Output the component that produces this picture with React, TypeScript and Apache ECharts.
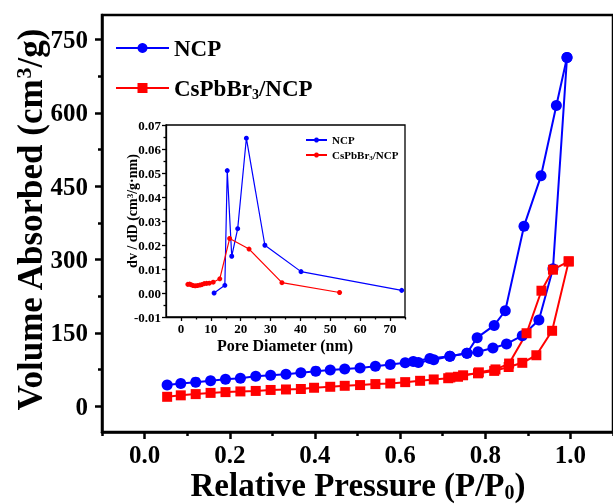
import React, { useEffect, useRef } from 'react';
import * as echarts from 'echarts';

// Main isotherm: NCP (adsorption / desorption branches)
const ncpAdsP = [0.053, 0.085, 0.12, 0.155, 0.19, 0.225, 0.261, 0.296, 0.332, 0.367, 0.402, 0.436, 0.47, 0.506, 0.542, 0.577, 0.612, 0.643, 0.679, 0.717, 0.757, 0.783, 0.818, 0.85, 0.887, 0.926, 0.959, 0.992];
const ncpAdsV = [43, 46, 49, 52, 55, 57, 61, 63, 65, 68, 71.5, 74, 76, 78, 81.7, 85, 88.5, 89, 95, 102, 108, 111, 119, 127, 144, 176, 281, 713];
const ncpDesP = [0.992, 0.967, 0.931, 0.891, 0.847, 0.821, 0.781, 0.757, 0.717, 0.67, 0.631];
const ncpDesV = [713, 615, 471, 368, 195, 165, 140, 108, 102, 97.4, 91];

// Main isotherm: CsPbBr3/NCP
const csAdsP = [0.053, 0.085, 0.12, 0.155, 0.19, 0.225, 0.261, 0.296, 0.332, 0.367, 0.398, 0.436, 0.47, 0.506, 0.542, 0.577, 0.612, 0.647, 0.679, 0.713, 0.748, 0.783, 0.821, 0.855, 0.887, 0.92, 0.957, 0.996];
const csAdsV = [19, 22, 24.5, 27, 28.6, 30, 31, 33, 34, 35, 37.5, 39.5, 41.5, 43, 45, 46.3, 49, 51.7, 54.5, 57, 63, 67, 72, 80, 88.5, 104, 154, 296];
const csDesP = [0.996, 0.959, 0.932, 0.897, 0.856, 0.824, 0.785, 0.736, 0.718];
const csDesV = [296, 279, 236, 149, 87, 75, 69, 60, 58.6];

// Inset: pore size distribution
const ncpPoreD = [11.1, 14.7, 15.5, 17.0, 19.0, 21.9, 28.1, 40.2, 73.9];
const ncpPoreV = [0, 0.0032, 0.051, 0.0153, 0.0268, 0.0645, 0.0199, 0.0089, 0.0011];
const csPoreD = [2.3, 2.9, 3.5, 4.1, 4.8, 5.5, 6.3, 7.0, 7.8, 8.6, 9.5, 10.8, 13.0, 16.3, 22.8, 33.8, 53.1];
const csPoreV = [0.0036, 0.0037, 0.0034, 0.0031, 0.003, 0.0031, 0.0033, 0.0035, 0.0039, 0.004, 0.0041, 0.0045, 0.0059, 0.0227, 0.0183, 0.0043, 0.0002];

// Ticks
const mainXMajor = [0, 0.2, 0.4, 0.6, 0.8, 1.0];
const mainXMinor = [-0.1, 0.1, 0.3, 0.5, 0.7, 0.9, 1.1];
const mainYMajor = [0, 150, 300, 450, 600, 750];
const mainYMinor = [75, 225, 375, 525, 675];
const insetXMajor = [0, 10, 20, 30, 40, 50, 60, 70];
const insetXMinor = [5, 15, 25, 35, 45, 55, 65, 75];

const FONT = 'Liberation Serif';
const BLUE = '#0000FF';
const RED = '#FF0000';

const zip = (a: number[], b: number[]) => a.map((v, i) => [v, b[i]]);

export default function App() {
  const ref = useRef<HTMLDivElement>(null);
  useEffect(() => {
    document.body.style.margin = '0';
    const chart = echarts.init(ref.current!, null, { renderer: 'svg' });
    const lbl = (size: number, margin: number) => ({
      fontFamily: FONT, fontWeight: 'bold', fontSize: size, color: '#000', margin,
    });
    const mainLine = { show: true, onZero: false, lineStyle: { color: '#000', width: 2.5 } };
    const insetLine = { show: true, onZero: false, lineStyle: { color: '#000', width: 1.3 } };
    const option: any = {
      animation: false,
      textStyle: { fontFamily: FONT },
      grid: [
        { left: 102, top: 15, width: 515, height: 417, show: true, borderColor: '#000', borderWidth: 2.5, backgroundColor: 'transparent' },
        { left: 166, top: 125, width: 239, height: 192, show: true, borderColor: '#000', borderWidth: 1.3, backgroundColor: '#fff' },
      ],
      xAxis: [
        {
          gridIndex: 0, type: 'value', min: -0.1, max: 1.1, position: 'bottom',
          axisLine: mainLine,
          axisTick: { show: true, inside: false, length: 7, customValues: mainXMajor, lineStyle: { color: '#000', width: 2.5 } },
          axisLabel: { ...lbl(25, 10), customValues: mainXMajor, formatter: (v: number) => v.toFixed(1) },
          splitLine: { show: false },
        },
        {
          gridIndex: 0, type: 'value', min: -0.1, max: 1.1, position: 'bottom',
          axisLine: { show: false, onZero: false },
          axisTick: { show: true, inside: false, length: 4, customValues: mainXMinor, lineStyle: { color: '#000', width: 2.5 } },
          axisLabel: { show: false },
          splitLine: { show: false },
        },
        {
          gridIndex: 1, type: 'value', min: -5, max: 75, position: 'bottom',
          axisLine: insetLine,
          axisTick: { show: true, inside: false, length: 4, customValues: insetXMajor, lineStyle: { color: '#000', width: 1.3 } },
          axisLabel: { ...lbl(13, 5), customValues: insetXMajor },
          splitLine: { show: false },
        },
        {
          gridIndex: 1, type: 'value', min: -5, max: 75, position: 'bottom',
          axisLine: { show: false, onZero: false },
          axisTick: { show: true, inside: false, length: 2.5, customValues: insetXMinor, lineStyle: { color: '#000', width: 1.3 } },
          axisLabel: { show: false },
          splitLine: { show: false },
        },
      ],
      yAxis: [
        {
          gridIndex: 0, type: 'value', min: -53, max: 800, position: 'left',
          axisLine: mainLine,
          axisTick: { show: true, inside: false, length: 7, customValues: mainYMajor, lineStyle: { color: '#000', width: 2.5 } },
          axisLabel: { ...lbl(25, 14), customValues: mainYMajor },
          splitLine: { show: false },
        },
        {
          gridIndex: 0, type: 'value', min: -53, max: 800, position: 'left',
          axisLine: { show: false, onZero: false },
          axisTick: { show: true, inside: false, length: 4, customValues: mainYMinor, lineStyle: { color: '#000', width: 2.5 } },
          axisLabel: { show: false },
          splitLine: { show: false },
        },
        {
          gridIndex: 1, type: 'value', min: -0.01, max: 0.07, interval: 0.01, position: 'left',
          axisLine: insetLine,
          axisTick: { show: true, inside: false, length: 4, lineStyle: { color: '#000', width: 1.3 } },
          minorTick: { show: true, splitNumber: 2, length: 2.5, lineStyle: { color: '#000', width: 1.3 } },
          axisLabel: { ...lbl(13, 5), formatter: (v: number) => (Math.abs(v) < 1e-9 ? 0 : v).toFixed(2) },
          splitLine: { show: false },
        },
      ],
      legend: [
        {
          data: ['NCP', 'CsPbBr3/NCP'], orient: 'vertical', left: 110, top: 30,
          itemWidth: 53, itemHeight: 12.5, itemGap: 14, selectedMode: false,
          formatter: (n: string) => (n === 'NCP' ? 'NCP' : 'CsPbBr{sub|3}/NCP'),
          textStyle: {
            fontFamily: FONT, fontWeight: 'bold', fontSize: 23, color: '#000', lineHeight: 26,
            rich: { sub: { fontFamily: FONT, fontWeight: 'bold', fontSize: 14, color: '#000', verticalAlign: 'bottom', lineHeight: 26 } },
          },
        },
        {
          data: ['iNCP', 'iCs'], orient: 'vertical', left: 300, top: 128.5,
          itemWidth: 21, itemHeight: 6.25, itemGap: 2, selectedMode: false,
          formatter: (n: string) => (n === 'iNCP' ? 'NCP' : 'CsPbBr{sub|3}/NCP'),
          textStyle: {
            fontFamily: FONT, fontWeight: 'bold', fontSize: 11, color: '#000', lineHeight: 13,
            rich: { sub: { fontFamily: FONT, fontWeight: 'bold', fontSize: 7, color: '#000', verticalAlign: 'bottom', lineHeight: 13 } },
          },
        },
      ],
      graphic: [
        {
          type: 'text', x: 30, y: 220, rotation: Math.PI / 2,
          style: {
            text: 'Volume Absorbed (cm{sup|3}/g)', fill: '#000', font: `bold 35px "${FONT}"`,
            align: 'center', verticalAlign: 'middle',
            rich: { sup: { fontFamily: FONT, fontWeight: 'bold', fontSize: 22, verticalAlign: 'top', fill: '#000' } },
          },
        },
        {
          type: 'text', x: 358, y: 485,
          style: {
            text: 'Relative Pressure (P/P{sub|0})', fill: '#000', font: `bold 33px "${FONT}"`, lineHeight: 33,
            align: 'center', verticalAlign: 'middle',
            rich: { sub: { fontFamily: FONT, fontWeight: 'bold', fontSize: 20, lineHeight: 33, verticalAlign: 'bottom', fill: '#000' } },
          },
        },
        {
          type: 'text', x: 285, y: 345,
          style: { text: 'Pore Diameter (nm)', fill: '#000', font: `bold 16px "${FONT}"`, align: 'center', verticalAlign: 'middle' },
        },
        {
          type: 'text', x: 132, y: 211, rotation: Math.PI / 2,
          style: {
            text: 'dv / dD (cm{sup|3}/g·nm)', fill: '#000', font: `bold 14px "${FONT}"`,
            align: 'center', verticalAlign: 'middle',
            rich: { sup: { fontFamily: FONT, fontWeight: 'bold', fontSize: 9, verticalAlign: 'top', fill: '#000' } },
          },
        },
      ],
      series: [
        { name: 'NCP', type: 'line', xAxisIndex: 0, yAxisIndex: 0, data: zip(ncpAdsP, ncpAdsV), symbol: 'circle', symbolSize: 11, color: BLUE, lineStyle: { width: 2, color: BLUE }, itemStyle: { color: BLUE } },
        { name: 'NCP', type: 'line', xAxisIndex: 0, yAxisIndex: 0, data: zip(ncpDesP, ncpDesV), symbol: 'circle', symbolSize: 11, color: BLUE, lineStyle: { width: 2, color: BLUE }, itemStyle: { color: BLUE } },
        { name: 'CsPbBr3/NCP', type: 'line', xAxisIndex: 0, yAxisIndex: 0, data: zip(csAdsP, csAdsV), symbol: 'rect', symbolSize: 10, color: RED, lineStyle: { width: 2, color: RED }, itemStyle: { color: RED } },
        { name: 'CsPbBr3/NCP', type: 'line', xAxisIndex: 0, yAxisIndex: 0, data: zip(csDesP, csDesV), symbol: 'rect', symbolSize: 10, color: RED, lineStyle: { width: 2, color: RED }, itemStyle: { color: RED } },
        { name: 'iNCP', type: 'line', xAxisIndex: 2, yAxisIndex: 2, data: zip(ncpPoreD, ncpPoreV), symbol: 'circle', symbolSize: 5, color: BLUE, lineStyle: { width: 1.2, color: BLUE }, itemStyle: { color: BLUE } },
        { name: 'iCs', type: 'line', xAxisIndex: 2, yAxisIndex: 2, data: zip(csPoreD, csPoreV), symbol: 'circle', symbolSize: 5, color: RED, lineStyle: { width: 1.2, color: RED }, itemStyle: { color: RED } },
      ],
    };
    chart.setOption(option);
    return () => chart.dispose();
  }, []);
  return <div ref={ref} style={{ position: 'fixed', left: 0, top: 0, width: 613, height: 504 }} />;
}
